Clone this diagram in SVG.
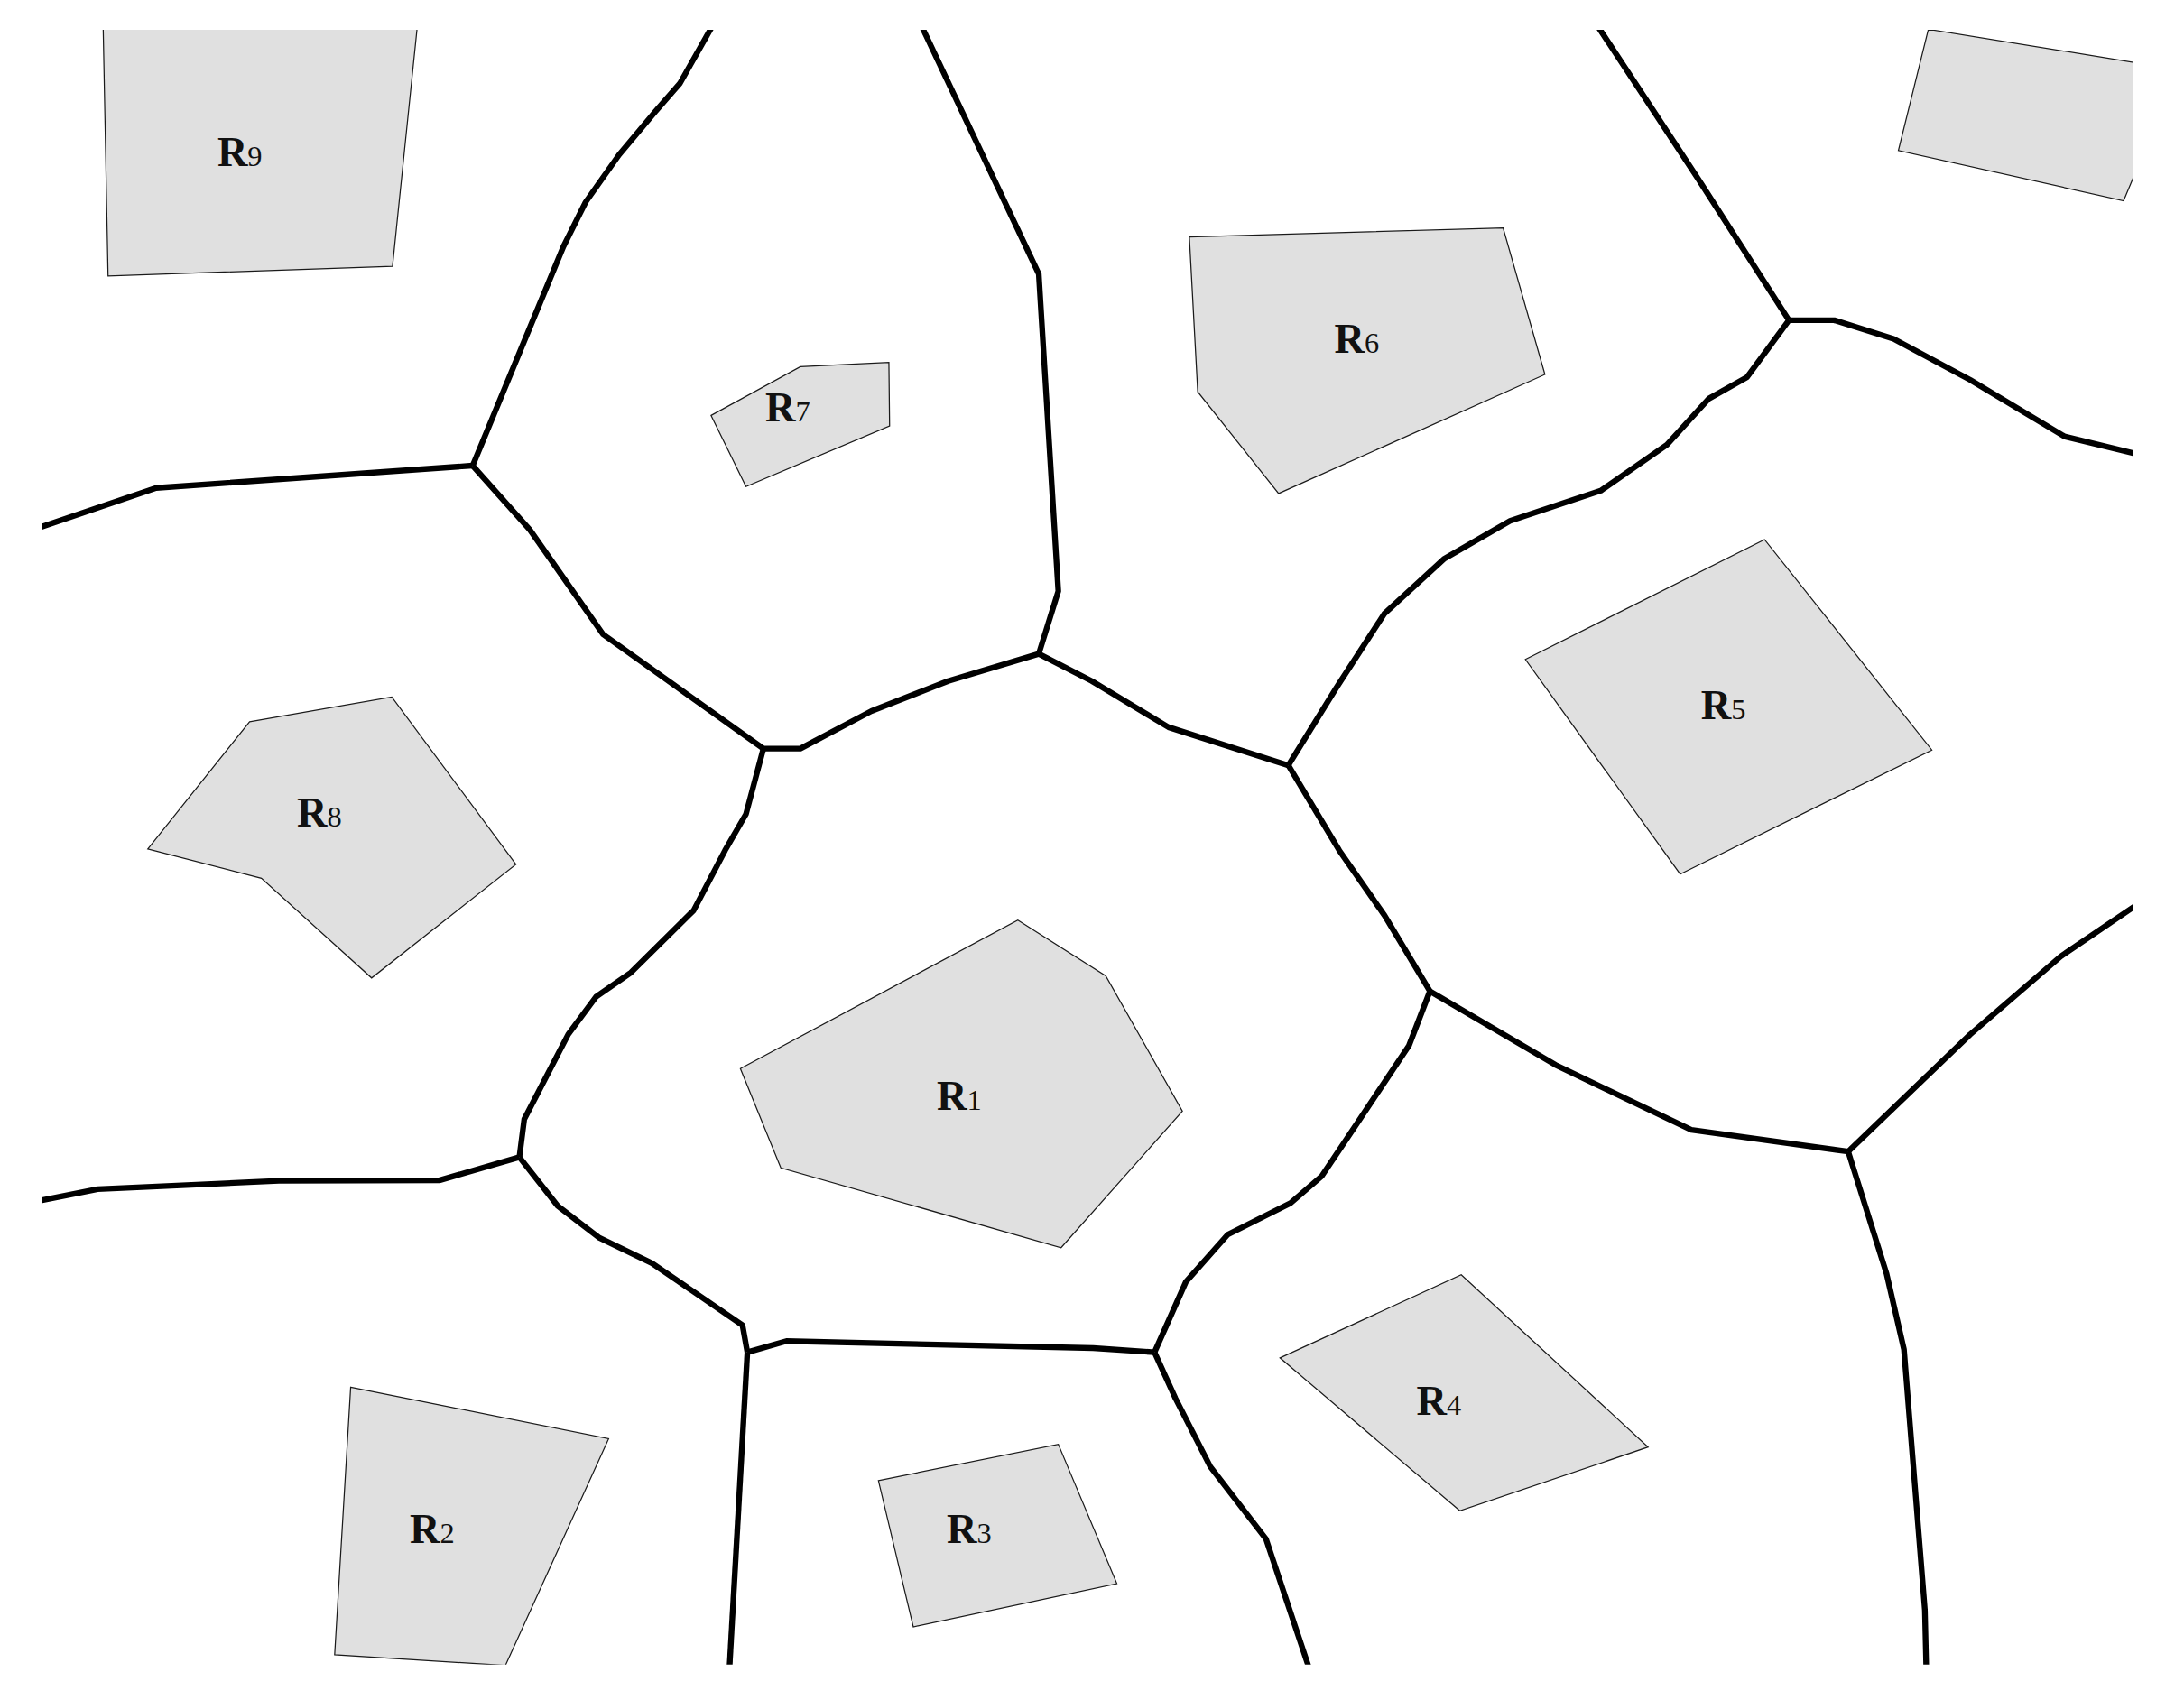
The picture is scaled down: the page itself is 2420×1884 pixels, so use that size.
<svg xmlns="http://www.w3.org/2000/svg" width="2420" height="1884" viewBox="0 0 2420 1884">
<style>
.edge{fill:none;stroke:#000;stroke-width:4.1;stroke-linejoin:round;stroke-linecap:butt}
.reg{fill:#e0e0e0;stroke:#1a1a1a;stroke-width:0.8;stroke-linejoin:miter}
.lbl{font-family:"Liberation Serif","Times New Roman",serif;font-size:30px;font-weight:bold;fill:#111;text-anchor:middle}
.sub{font-size:21px;font-weight:normal}
</style>
<defs>
<clipPath id="frame"><rect x="30" y="21.4" width="1499.5" height="1172.6"/></clipPath>
</defs>
<rect width="2420" height="1884" fill="#fff"/>
<g transform="scale(1.545)">
<g clip-path="url(#frame)">
<g id="connectors">
<polyline class="edge" points="515.8,10 509,22 487.5,60 470,80 444,111 420,145 404,177 339,334"/>
<polyline class="edge" points="339,334 112,350 15,383"/>
<polyline class="edge" points="339,334 380,380 432.5,455 547.5,537 574,537 625,510 680,488.5 745,469"/>
<polyline class="edge" points="745,469 759,424 745,196.5 662.5,22 656.8,10"/>
<polyline class="edge" points="745,469 783,488.5 838,521.6 924,549"/>
<polyline class="edge" points="924,549 958,494 993,440 1035.5,401 1083,373.7 1148,352 1195.5,319 1225.5,286 1253,270.5 1283,229.7"/>
<polyline class="edge" points="1283,229.7 1218,128.5 1148,22 1140,10"/>
<polyline class="edge" points="1283,229.7 1315.5,229.7 1358,243 1413,272.5 1480.5,313 1545,328.8"/>
<polyline class="edge" points="924,549 960.5,610 993,656.7 1025.5,711"/>
<polyline class="edge" points="1025.5,711 1115.5,763.8 1213,810.5 1325.5,826"/>
<polyline class="edge" points="1325.5,826 1413,742 1478,686 1545,640.5"/>
<polyline class="edge" points="1325.5,826 1353,913.6 1365.5,968 1380.5,1155 1381.7,1205"/>
<polyline class="edge" points="1025.5,711 1010.5,750 948,843.6 925.5,863 880.5,885.6 850.5,919.5 828,970"/>
<polyline class="edge" points="828,970 843,1003 868,1052 908,1104 941.7,1205"/>
<polyline class="edge" points="828,970 784,967 564,962 536,970"/>
<polyline class="edge" points="536,970 532.5,950.6 467.5,906 430,888 400,865 372.5,830"/>
<polyline class="edge" points="372.5,830 315,846.7 200,847 70,853 15,864"/>
<polyline class="edge" points="372.5,830 376,802.7 407.5,742 427.5,715 452.5,697.6 497.5,653 520,610 535,584 547.5,537"/>
<polyline class="edge" points="536,970 522.7,1205"/>
</g>
<g id="R1"><polygon class="reg" points="730,660 793,700 848,797 761,895 560,837.7 531,766.5"/><text class="lbl" x="688" y="796">R<tspan class="sub">1</tspan></text></g>
<g id="R2"><polygon class="reg" points="251.5,995 436.5,1032 362.5,1194.6 240,1187"/><text class="lbl" x="310" y="1107">R<tspan class="sub">2</tspan></text></g>
<g id="R3"><polygon class="reg" points="630,1062 759,1036 801,1136 655,1167"/><text class="lbl" x="695" y="1107">R<tspan class="sub">3</tspan></text></g>
<g id="R4"><polygon class="reg" points="918,974 1048,914.4 1182,1038 1047,1083.7"/><text class="lbl" x="1032" y="1015">R<tspan class="sub">4</tspan></text></g>
<g id="R5"><polygon class="reg" points="1094,473 1265.5,387 1385.5,538 1205,627"/><text class="lbl" x="1236" y="516">R<tspan class="sub">5</tspan></text></g>
<g id="R6"><polygon class="reg" points="853,170 1078,163.5 1108,268.6 917,354 859,281"/><text class="lbl" x="973" y="253">R<tspan class="sub">6</tspan></text></g>
<g id="R7"><polygon class="reg" points="510,298 574,263 637.5,260 638,305.5 535,349"/><text class="lbl" x="565" y="302">R<tspan class="sub">7</tspan></text></g>
<g id="R8"><polygon class="reg" points="179,517.7 281,500 370,620 266.5,701.5 187.5,630 106,609"/><text class="lbl" x="229" y="593">R<tspan class="sub">8</tspan></text></g>
<g id="R9"><polygon class="reg" points="73.8,10 300.2,10 281.5,191 77.5,198"/><text class="lbl" x="172" y="119">R<tspan class="sub">9</tspan></text></g>
<g id="R10"><polygon class="reg" points="1383,21 1560,49.5 1560,56 1523,144 1361.5,108"/></g>
</g>
</g>
</svg>
